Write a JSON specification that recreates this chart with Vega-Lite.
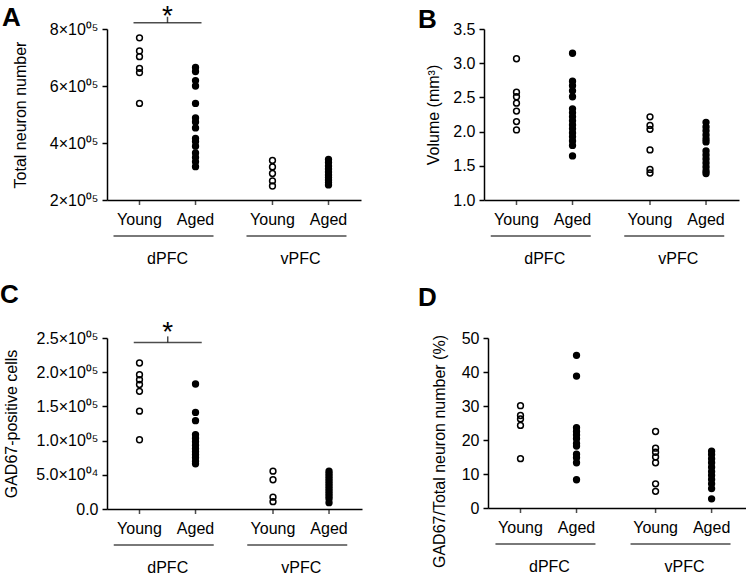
{
  "$schema": "https://vega.github.io/schema/vega-lite/v6.json",
  "padding": {"left": 0, "top": 2, "right": 0, "bottom": 0},
  "background": "white",
  "bounds": "flush",
  "spacing": 309,
  "datasets": {
    "pts": [
      {"panel":"A","region":"dPFC","age":"Young","value":769000},
      {"panel":"A","region":"dPFC","age":"Young","value":723000},
      {"panel":"A","region":"dPFC","age":"Young","value":703000},
      {"panel":"A","region":"dPFC","age":"Young","value":662000},
      {"panel":"A","region":"dPFC","age":"Young","value":647000},
      {"panel":"A","region":"dPFC","age":"Young","value":539000},
      {"panel":"A","region":"dPFC","age":"Aged","value":665000},
      {"panel":"A","region":"dPFC","age":"Aged","value":651000},
      {"panel":"A","region":"dPFC","age":"Aged","value":619000},
      {"panel":"A","region":"dPFC","age":"Aged","value":600000},
      {"panel":"A","region":"dPFC","age":"Aged","value":539000},
      {"panel":"A","region":"dPFC","age":"Aged","value":488000},
      {"panel":"A","region":"dPFC","age":"Aged","value":474000},
      {"panel":"A","region":"dPFC","age":"Aged","value":453000},
      {"panel":"A","region":"dPFC","age":"Aged","value":416000},
      {"panel":"A","region":"dPFC","age":"Aged","value":405000},
      {"panel":"A","region":"dPFC","age":"Aged","value":389000},
      {"panel":"A","region":"dPFC","age":"Aged","value":365000},
      {"panel":"A","region":"dPFC","age":"Aged","value":349000},
      {"panel":"A","region":"dPFC","age":"Aged","value":334000},
      {"panel":"A","region":"dPFC","age":"Aged","value":317000},
      {"panel":"A","region":"vPFC","age":"Young","value":339000},
      {"panel":"A","region":"vPFC","age":"Young","value":316000},
      {"panel":"A","region":"vPFC","age":"Young","value":293000},
      {"panel":"A","region":"vPFC","age":"Young","value":267000},
      {"panel":"A","region":"vPFC","age":"Young","value":249000},
      {"panel":"A","region":"vPFC","age":"Aged","value":342000},
      {"panel":"A","region":"vPFC","age":"Aged","value":332000},
      {"panel":"A","region":"vPFC","age":"Aged","value":319000},
      {"panel":"A","region":"vPFC","age":"Aged","value":309000},
      {"panel":"A","region":"vPFC","age":"Aged","value":298000},
      {"panel":"A","region":"vPFC","age":"Aged","value":288000},
      {"panel":"A","region":"vPFC","age":"Aged","value":279000},
      {"panel":"A","region":"vPFC","age":"Aged","value":270000},
      {"panel":"A","region":"vPFC","age":"Aged","value":261000},
      {"panel":"A","region":"vPFC","age":"Aged","value":253000},

      {"panel":"B","region":"dPFC","age":"Young","value":3.065},
      {"panel":"B","region":"dPFC","age":"Young","value":2.577},
      {"panel":"B","region":"dPFC","age":"Young","value":2.509},
      {"panel":"B","region":"dPFC","age":"Young","value":2.416},
      {"panel":"B","region":"dPFC","age":"Young","value":2.30},
      {"panel":"B","region":"dPFC","age":"Young","value":2.147},
      {"panel":"B","region":"dPFC","age":"Young","value":2.025},
      {"panel":"B","region":"dPFC","age":"Aged","value":3.146},
      {"panel":"B","region":"dPFC","age":"Aged","value":2.736},
      {"panel":"B","region":"dPFC","age":"Aged","value":2.670},
      {"panel":"B","region":"dPFC","age":"Aged","value":2.596},
      {"panel":"B","region":"dPFC","age":"Aged","value":2.509},
      {"panel":"B","region":"dPFC","age":"Aged","value":2.333},
      {"panel":"B","region":"dPFC","age":"Aged","value":2.274},
      {"panel":"B","region":"dPFC","age":"Aged","value":2.216},
      {"panel":"B","region":"dPFC","age":"Aged","value":2.157},
      {"panel":"B","region":"dPFC","age":"Aged","value":2.098},
      {"panel":"B","region":"dPFC","age":"Aged","value":2.040},
      {"panel":"B","region":"dPFC","age":"Aged","value":1.981},
      {"panel":"B","region":"dPFC","age":"Aged","value":1.923},
      {"panel":"B","region":"dPFC","age":"Aged","value":1.864},
      {"panel":"B","region":"dPFC","age":"Aged","value":1.798},
      {"panel":"B","region":"dPFC","age":"Aged","value":1.644},
      {"panel":"B","region":"vPFC","age":"Young","value":2.216},
      {"panel":"B","region":"vPFC","age":"Young","value":2.091},
      {"panel":"B","region":"vPFC","age":"Young","value":2.033},
      {"panel":"B","region":"vPFC","age":"Young","value":1.732},
      {"panel":"B","region":"vPFC","age":"Young","value":1.447},
      {"panel":"B","region":"vPFC","age":"Young","value":1.395},
      {"panel":"B","region":"vPFC","age":"Aged","value":2.135},
      {"panel":"B","region":"vPFC","age":"Aged","value":2.069},
      {"panel":"B","region":"vPFC","age":"Aged","value":2.011},
      {"panel":"B","region":"vPFC","age":"Aged","value":1.952},
      {"panel":"B","region":"vPFC","age":"Aged","value":1.893},
      {"panel":"B","region":"vPFC","age":"Aged","value":1.849},
      {"panel":"B","region":"vPFC","age":"Aged","value":1.718},
      {"panel":"B","region":"vPFC","age":"Aged","value":1.659},
      {"panel":"B","region":"vPFC","age":"Aged","value":1.600},
      {"panel":"B","region":"vPFC","age":"Aged","value":1.542},
      {"panel":"B","region":"vPFC","age":"Aged","value":1.483},
      {"panel":"B","region":"vPFC","age":"Aged","value":1.425},
      {"panel":"B","region":"vPFC","age":"Aged","value":1.388},

      {"panel":"C","region":"dPFC","age":"Young","value":213500},
      {"panel":"C","region":"dPFC","age":"Young","value":196300},
      {"panel":"C","region":"dPFC","age":"Young","value":189000},
      {"panel":"C","region":"dPFC","age":"Young","value":182000},
      {"panel":"C","region":"dPFC","age":"Young","value":172000},
      {"panel":"C","region":"dPFC","age":"Young","value":143000},
      {"panel":"C","region":"dPFC","age":"Young","value":101300},
      {"panel":"C","region":"dPFC","age":"Aged","value":182800},
      {"panel":"C","region":"dPFC","age":"Aged","value":141200},
      {"panel":"C","region":"dPFC","age":"Aged","value":129100},
      {"panel":"C","region":"dPFC","age":"Aged","value":108600},
      {"panel":"C","region":"dPFC","age":"Aged","value":103500},
      {"panel":"C","region":"dPFC","age":"Aged","value":98400},
      {"panel":"C","region":"dPFC","age":"Aged","value":93300},
      {"panel":"C","region":"dPFC","age":"Aged","value":88200},
      {"panel":"C","region":"dPFC","age":"Aged","value":83800},
      {"panel":"C","region":"dPFC","age":"Aged","value":79400},
      {"panel":"C","region":"dPFC","age":"Aged","value":75000},
      {"panel":"C","region":"dPFC","age":"Aged","value":69900},
      {"panel":"C","region":"dPFC","age":"Aged","value":66000},
      {"panel":"C","region":"vPFC","age":"Young","value":55300},
      {"panel":"C","region":"vPFC","age":"Young","value":42800},
      {"panel":"C","region":"vPFC","age":"Young","value":17300},
      {"panel":"C","region":"vPFC","age":"Young","value":10700},
      {"panel":"C","region":"vPFC","age":"Aged","value":55300},
      {"panel":"C","region":"vPFC","age":"Aged","value":51600},
      {"panel":"C","region":"vPFC","age":"Aged","value":48000},
      {"panel":"C","region":"vPFC","age":"Aged","value":44300},
      {"panel":"C","region":"vPFC","age":"Aged","value":40600},
      {"panel":"C","region":"vPFC","age":"Aged","value":37000},
      {"panel":"C","region":"vPFC","age":"Aged","value":33300},
      {"panel":"C","region":"vPFC","age":"Aged","value":29700},
      {"panel":"C","region":"vPFC","age":"Aged","value":26000},
      {"panel":"C","region":"vPFC","age":"Aged","value":22400},
      {"panel":"C","region":"vPFC","age":"Aged","value":18700},
      {"panel":"C","region":"vPFC","age":"Aged","value":15100},
      {"panel":"C","region":"vPFC","age":"Aged","value":9200},

      {"panel":"D","region":"dPFC","age":"Young","value":30.1},
      {"panel":"D","region":"dPFC","age":"Young","value":27.2},
      {"panel":"D","region":"dPFC","age":"Young","value":26.2},
      {"panel":"D","region":"dPFC","age":"Young","value":24.3},
      {"panel":"D","region":"dPFC","age":"Young","value":14.5},
      {"panel":"D","region":"dPFC","age":"Aged","value":44.9},
      {"panel":"D","region":"dPFC","age":"Aged","value":38.8},
      {"panel":"D","region":"dPFC","age":"Aged","value":23.6},
      {"panel":"D","region":"dPFC","age":"Aged","value":22.5},
      {"panel":"D","region":"dPFC","age":"Aged","value":21.5},
      {"panel":"D","region":"dPFC","age":"Aged","value":20.4},
      {"panel":"D","region":"dPFC","age":"Aged","value":19.0},
      {"panel":"D","region":"dPFC","age":"Aged","value":18.2},
      {"panel":"D","region":"dPFC","age":"Aged","value":15.8},
      {"panel":"D","region":"dPFC","age":"Aged","value":14.8},
      {"panel":"D","region":"dPFC","age":"Aged","value":13.3},
      {"panel":"D","region":"dPFC","age":"Aged","value":8.3},
      {"panel":"D","region":"vPFC","age":"Young","value":22.5},
      {"panel":"D","region":"vPFC","age":"Young","value":17.6},
      {"panel":"D","region":"vPFC","age":"Young","value":16.4},
      {"panel":"D","region":"vPFC","age":"Young","value":15.0},
      {"panel":"D","region":"vPFC","age":"Young","value":13.3},
      {"panel":"D","region":"vPFC","age":"Young","value":7.1},
      {"panel":"D","region":"vPFC","age":"Young","value":4.9},
      {"panel":"D","region":"vPFC","age":"Aged","value":16.7},
      {"panel":"D","region":"vPFC","age":"Aged","value":15.7},
      {"panel":"D","region":"vPFC","age":"Aged","value":14.5},
      {"panel":"D","region":"vPFC","age":"Aged","value":13.3},
      {"panel":"D","region":"vPFC","age":"Aged","value":12.0},
      {"panel":"D","region":"vPFC","age":"Aged","value":10.7},
      {"panel":"D","region":"vPFC","age":"Aged","value":9.6},
      {"panel":"D","region":"vPFC","age":"Aged","value":8.4},
      {"panel":"D","region":"vPFC","age":"Aged","value":7.1},
      {"panel":"D","region":"vPFC","age":"Aged","value":5.7},
      {"panel":"D","region":"vPFC","age":"Aged","value":2.7}
    ],
    "cats": [
      {"region":"dPFC","age":"Young"},
      {"region":"dPFC","age":"Aged"},
      {"region":"vPFC","age":"Young"},
      {"region":"vPFC","age":"Aged"}
    ],
    "groups": [
      {"region":"dPFC"},
      {"region":"vPFC"}
    ],
    "sig": [
      {"panel":"A","region":"dPFC","value":822000,"label":"*"},
      {"panel":"C","region":"dPFC","value":243600,"label":"*"}
    ]
  },
  "vconcat": [
    {
      "hconcat": [
        {
          "title": {"text": "A", "dx": -105, "dy": 32},
          "width": 254, "height": 171,
          "layer": [
            {
              "data": {"name": "pts"},
              "transform": [{"filter": "datum.panel === 'A'"}],
              "mark": {"type": "point", "shape": "circle", "filled": true, "stroke": "black", "strokeWidth": 1.5, "size": 34, "opacity": 1},
              "encoding": {
                "x": {"field": "region", "type": "nominal", "scale": {"type": "band", "domain": ["dPFC","vPFC"], "paddingInner": 0.09, "paddingOuter": 0}, "axis": {"title": null, "ticks": false, "tickSize": 0, "labelPadding": 50, "labelAngle": 0}},
                "xOffset": {"field": "age", "type": "nominal", "scale": {"type": "point", "domain": ["Young","Aged"], "padding": 0.58}},
                "y": {"field": "value", "type": "quantitative", "scale": {"domain": [200000, 800000], "nice": false, "zero": false}, "axis": {"title": "Total neuron number", "values": [200000,400000,600000,800000], "tickCount": 4, "labelExpr": "format(datum.value/100000,'d') + '×10⁰⁵'", "titleX": -79, "labelOverlap": false}},
                "fill": {"field": "age", "type": "nominal", "scale": {"domain": ["Young","Aged"], "range": ["transparent","black"]}, "legend": null}
              }
            },
            {
              "data": {"name": "cats"},
              "mark": {"type": "text", "baseline": "alphabetic", "dy": 25, "fontSize": 16, "color": "black"},
              "encoding": {"x": {"field": "region", "type": "nominal"}, "xOffset": {"field": "age", "type": "nominal"}, "y": {"datum": 200000, "type": "quantitative", "axis": {"title": "Total neuron number", "values": [200000,400000,600000,800000], "tickCount": 4, "labelExpr": "format(datum.value/100000,'d') + '×10⁰⁵'", "titleX": -79, "labelOverlap": false}}, "text": {"field": "age"}}
            },
            {
              "data": {"name": "cats"},
              "mark": {"type": "tick", "orient": "vertical", "size": 5, "thickness": 1.5, "color": "black", "yOffset": 2.5},
              "encoding": {"x": {"field": "region", "type": "nominal"}, "xOffset": {"field": "age", "type": "nominal"}, "y": {"datum": 200000, "type": "quantitative", "axis": {"title": "Total neuron number", "values": [200000,400000,600000,800000], "tickCount": 4, "labelExpr": "format(datum.value/100000,'d') + '×10⁰⁵'", "titleX": -79, "labelOverlap": false}}}
            },
            {
              "data": {"name": "groups"},
              "mark": {"type": "tick", "orient": "horizontal", "size": 100, "thickness": 1.5, "color": "black", "yOffset": 36, "xOffset": -4},
              "encoding": {"x": {"field": "region", "type": "nominal"}, "y": {"datum": 200000, "type": "quantitative", "axis": {"title": "Total neuron number", "values": [200000,400000,600000,800000], "tickCount": 4, "labelExpr": "format(datum.value/100000,'d') + '×10⁰⁵'", "titleX": -79, "labelOverlap": false}}}
            },
            {
              "data": {"name": "sig"},
              "transform": [{"filter": "datum.panel === 'A'"}],
              "layer": [
                {"mark": {"type": "tick", "orient": "horizontal", "size": 68, "thickness": 1.5, "color": "black"}},
                {"mark": {"type": "tick", "orient": "vertical", "size": 6, "thickness": 1.5, "color": "black", "yOffset": -3}},
                {"mark": {"type": "text", "baseline": "alphabetic", "fontSize": 28, "dy": 2, "color": "black"}, "encoding": {"text": {"field": "label"}}}
              ],
              "encoding": {"x": {"field": "region", "type": "nominal"}, "y": {"field": "value", "type": "quantitative", "axis": {"title": "Total neuron number", "values": [200000,400000,600000,800000], "tickCount": 4, "labelExpr": "format(datum.value/100000,'d') + '×10⁰⁵'", "titleX": -79, "labelOverlap": false}}}
            }
          ]
        },
        {
          "title": {"text": "B", "dx": -66, "dy": 16},
          "width": 255, "height": 171,
          "layer": [
            {
              "data": {"name": "pts"},
              "transform": [{"filter": "datum.panel === 'B'"}],
              "mark": {"type": "point", "shape": "circle", "filled": true, "stroke": "black", "strokeWidth": 1.5, "size": 34, "opacity": 1},
              "encoding": {
                "x": {"field": "region", "type": "nominal", "scale": {"type": "band", "domain": ["dPFC","vPFC"], "paddingInner": 0.09, "paddingOuter": 0}, "axis": {"title": null, "ticks": false, "tickSize": 0, "labelPadding": 50, "labelAngle": 0}},
                "xOffset": {"field": "age", "type": "nominal", "scale": {"type": "point", "domain": ["Young","Aged"], "padding": 0.58}},
                "y": {"field": "value", "type": "quantitative", "scale": {"domain": [1, 3.5], "nice": false, "zero": false}, "axis": {"title": "Volume (mm³)", "values": [1,1.5,2,2.5,3,3.5], "tickCount": 6, "format": ".1f", "titleX": -43, "labelOverlap": false}},
                "fill": {"field": "age", "type": "nominal", "scale": {"domain": ["Young","Aged"], "range": ["transparent","black"]}, "legend": null}
              }
            },
            {
              "data": {"name": "cats"},
              "mark": {"type": "text", "baseline": "alphabetic", "dy": 25, "fontSize": 16, "color": "black"},
              "encoding": {"x": {"field": "region", "type": "nominal"}, "xOffset": {"field": "age", "type": "nominal"}, "y": {"datum": 1, "type": "quantitative", "axis": {"title": "Volume (mm³)", "values": [1,1.5,2,2.5,3,3.5], "tickCount": 6, "format": ".1f", "titleX": -43, "labelOverlap": false}}, "text": {"field": "age"}}
            },
            {
              "data": {"name": "cats"},
              "mark": {"type": "tick", "orient": "vertical", "size": 5, "thickness": 1.5, "color": "black", "yOffset": 2.5},
              "encoding": {"x": {"field": "region", "type": "nominal"}, "xOffset": {"field": "age", "type": "nominal"}, "y": {"datum": 1, "type": "quantitative", "axis": {"title": "Volume (mm³)", "values": [1,1.5,2,2.5,3,3.5], "tickCount": 6, "format": ".1f", "titleX": -43, "labelOverlap": false}}}
            },
            {
              "data": {"name": "groups"},
              "mark": {"type": "tick", "orient": "horizontal", "size": 100, "thickness": 1.5, "color": "black", "yOffset": 36, "xOffset": -4},
              "encoding": {"x": {"field": "region", "type": "nominal"}, "y": {"datum": 1, "type": "quantitative", "axis": {"title": "Volume (mm³)", "values": [1,1.5,2,2.5,3,3.5], "tickCount": 6, "format": ".1f", "titleX": -43, "labelOverlap": false}}}
            }
          ]
        }
      ],
      "spacing": 123,
      "bounds": "flush"
    },
    {
      "hconcat": [
        {
          "title": {"text": "C", "dx": -107, "dy": -7},
          "width": 255, "height": 171,
          "layer": [
            {
              "data": {"name": "pts"},
              "transform": [{"filter": "datum.panel === 'C'"}],
              "mark": {"type": "point", "shape": "circle", "filled": true, "stroke": "black", "strokeWidth": 1.5, "size": 34, "opacity": 1},
              "encoding": {
                "x": {"field": "region", "type": "nominal", "scale": {"type": "band", "domain": ["dPFC","vPFC"], "paddingInner": 0.09, "paddingOuter": 0}, "axis": {"title": null, "ticks": false, "tickSize": 0, "labelPadding": 50, "labelAngle": 0}},
                "xOffset": {"field": "age", "type": "nominal", "scale": {"type": "point", "domain": ["Young","Aged"], "padding": 0.58}},
                "y": {"field": "value", "type": "quantitative", "scale": {"domain": [0, 250000], "nice": false, "zero": false}, "axis": {"title": "GAD67-positive cells", "values": [0,50000,100000,150000,200000,250000], "tickCount": 6, "labelExpr": "datum.value === 0 ? '0.0' : (datum.value < 100000 ? format(datum.value/10000,'.1f') + '×10⁰⁴' : format(datum.value/100000,'.1f') + '×10⁰⁵')", "titleX": -88, "labelOverlap": false}},
                "fill": {"field": "age", "type": "nominal", "scale": {"domain": ["Young","Aged"], "range": ["transparent","black"]}, "legend": null}
              }
            },
            {
              "data": {"name": "cats"},
              "mark": {"type": "text", "baseline": "alphabetic", "dy": 25, "fontSize": 16, "color": "black"},
              "encoding": {"x": {"field": "region", "type": "nominal"}, "xOffset": {"field": "age", "type": "nominal"}, "y": {"datum": 0, "type": "quantitative", "axis": {"title": "GAD67-positive cells", "values": [0,50000,100000,150000,200000,250000], "tickCount": 6, "labelExpr": "datum.value === 0 ? '0.0' : (datum.value < 100000 ? format(datum.value/10000,'.1f') + '×10⁰⁴' : format(datum.value/100000,'.1f') + '×10⁰⁵')", "titleX": -88, "labelOverlap": false}}, "text": {"field": "age"}}
            },
            {
              "data": {"name": "cats"},
              "mark": {"type": "tick", "orient": "vertical", "size": 5, "thickness": 1.5, "color": "black", "yOffset": 2.5},
              "encoding": {"x": {"field": "region", "type": "nominal"}, "xOffset": {"field": "age", "type": "nominal"}, "y": {"datum": 0, "type": "quantitative", "axis": {"title": "GAD67-positive cells", "values": [0,50000,100000,150000,200000,250000], "tickCount": 6, "labelExpr": "datum.value === 0 ? '0.0' : (datum.value < 100000 ? format(datum.value/10000,'.1f') + '×10⁰⁴' : format(datum.value/100000,'.1f') + '×10⁰⁵')", "titleX": -88, "labelOverlap": false}}}
            },
            {
              "data": {"name": "groups"},
              "mark": {"type": "tick", "orient": "horizontal", "size": 100, "thickness": 1.5, "color": "black", "yOffset": 36, "xOffset": -4},
              "encoding": {"x": {"field": "region", "type": "nominal"}, "y": {"datum": 0, "type": "quantitative", "axis": {"title": "GAD67-positive cells", "values": [0,50000,100000,150000,200000,250000], "tickCount": 6, "labelExpr": "datum.value === 0 ? '0.0' : (datum.value < 100000 ? format(datum.value/10000,'.1f') + '×10⁰⁴' : format(datum.value/100000,'.1f') + '×10⁰⁵')", "titleX": -88, "labelOverlap": false}}}
            },
            {
              "data": {"name": "sig"},
              "transform": [{"filter": "datum.panel === 'C'"}],
              "layer": [
                {"mark": {"type": "tick", "orient": "horizontal", "size": 68, "thickness": 1.5, "color": "black"}},
                {"mark": {"type": "tick", "orient": "vertical", "size": 6, "thickness": 1.5, "color": "black", "yOffset": -3}},
                {"mark": {"type": "text", "baseline": "alphabetic", "fontSize": 28, "dy": -1, "color": "black"}, "encoding": {"text": {"field": "label"}}}
              ],
              "encoding": {"x": {"field": "region", "type": "nominal"}, "y": {"field": "value", "type": "quantitative", "axis": {"title": "GAD67-positive cells", "values": [0,50000,100000,150000,200000,250000], "tickCount": 6, "labelExpr": "datum.value === 0 ? '0.0' : (datum.value < 100000 ? format(datum.value/10000,'.1f') + '×10⁰⁴' : format(datum.value/100000,'.1f') + '×10⁰⁵')", "titleX": -88, "labelOverlap": false}}}
            }
          ]
        },
        {
          "title": {"text": "D", "dx": -70, "dy": -15},
          "width": 258, "height": 170,
          "layer": [
            {
              "data": {"name": "pts"},
              "transform": [{"filter": "datum.panel === 'D'"}],
              "mark": {"type": "point", "shape": "circle", "filled": true, "stroke": "black", "strokeWidth": 1.5, "size": 34, "opacity": 1},
              "encoding": {
                "x": {"field": "region", "type": "nominal", "scale": {"type": "band", "domain": ["dPFC","vPFC"], "paddingInner": 0.09, "paddingOuter": 0}, "axis": {"title": null, "ticks": false, "tickSize": 0, "labelPadding": 50, "labelAngle": 0}},
                "xOffset": {"field": "age", "type": "nominal", "scale": {"type": "point", "domain": ["Young","Aged"], "padding": 0.58}},
                "y": {"field": "value", "type": "quantitative", "scale": {"domain": [0, 50], "nice": false, "zero": false}, "axis": {"title": "GAD67/Total neuron number (%)", "values": [0,10,20,30,40,50], "tickCount": 6, "titleX": -41, "titleY": 113, "labelOverlap": false}},
                "fill": {"field": "age", "type": "nominal", "scale": {"domain": ["Young","Aged"], "range": ["transparent","black"]}, "legend": null}
              }
            },
            {
              "data": {"name": "cats"},
              "mark": {"type": "text", "baseline": "alphabetic", "dy": 25, "fontSize": 16, "color": "black"},
              "encoding": {"x": {"field": "region", "type": "nominal"}, "xOffset": {"field": "age", "type": "nominal"}, "y": {"datum": 0, "type": "quantitative", "axis": {"title": "GAD67/Total neuron number (%)", "values": [0,10,20,30,40,50], "tickCount": 6, "titleX": -41, "titleY": 113, "labelOverlap": false}}, "text": {"field": "age"}}
            },
            {
              "data": {"name": "cats"},
              "mark": {"type": "tick", "orient": "vertical", "size": 5, "thickness": 1.5, "color": "black", "yOffset": 2.5},
              "encoding": {"x": {"field": "region", "type": "nominal"}, "xOffset": {"field": "age", "type": "nominal"}, "y": {"datum": 0, "type": "quantitative", "axis": {"title": "GAD67/Total neuron number (%)", "values": [0,10,20,30,40,50], "tickCount": 6, "titleX": -41, "titleY": 113, "labelOverlap": false}}}
            },
            {
              "data": {"name": "groups"},
              "mark": {"type": "tick", "orient": "horizontal", "size": 100, "thickness": 1.5, "color": "black", "yOffset": 36, "xOffset": -4},
              "encoding": {"x": {"field": "region", "type": "nominal"}, "y": {"datum": 0, "type": "quantitative", "axis": {"title": "GAD67/Total neuron number (%)", "values": [0,10,20,30,40,50], "tickCount": 6, "titleX": -41, "titleY": 113, "labelOverlap": false}}}
            }
          ]
        }
      ],
      "spacing": 126,
      "bounds": "flush"
    }
  ],
  "config": {
    "font": "Liberation Sans",
    "view": {"stroke": null},
    "axis": {"grid": false, "domainColor": "black", "domainWidth": 1.5, "tickColor": "black", "tickWidth": 1.5, "tickSize": 5, "labelColor": "black", "labelFontSize": 16, "labelFont": "Liberation Sans", "labelPadding": 4, "titleFont": "Liberation Sans", "titleFontSize": 16, "titleFontWeight": "normal", "titleColor": "black", "labelFlush": false, "labelOverlap": false},
    "title": {"anchor": "start", "frame": "group", "fontSize": 26, "fontWeight": "bold", "font": "Liberation Sans", "color": "black", "offset": 0}
  }
}
